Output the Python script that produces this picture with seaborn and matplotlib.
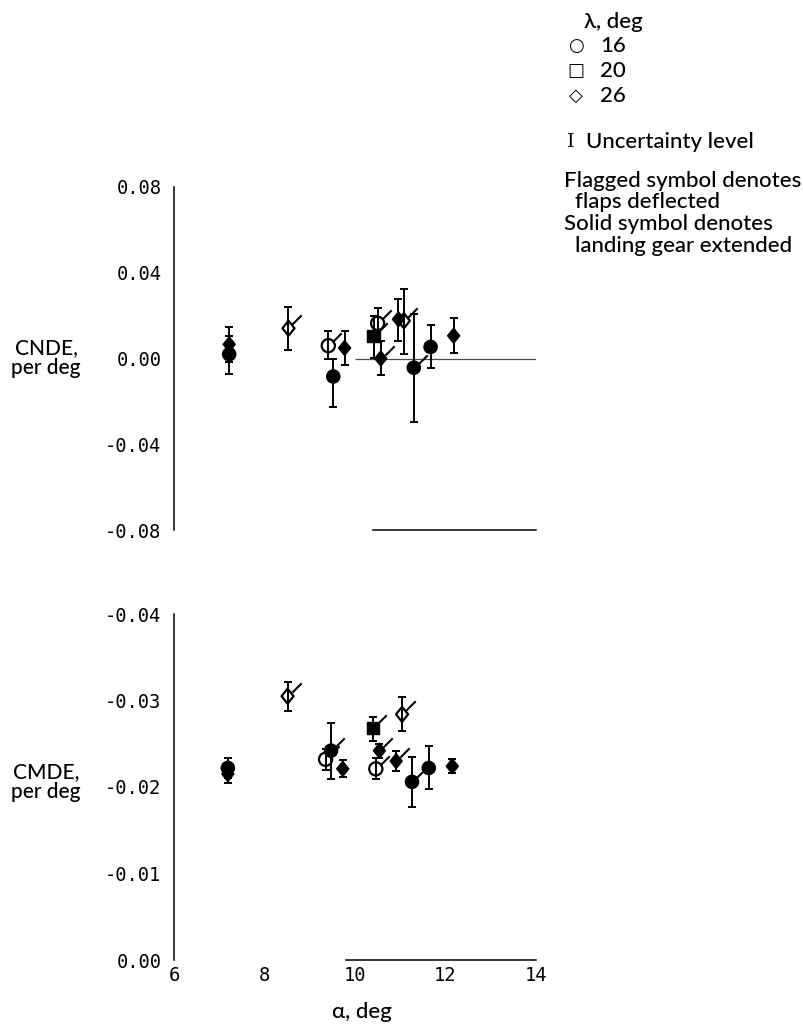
import numpy as np
import pandas as pd
import matplotlib
matplotlib.use("Agg")
import matplotlib.pyplot as plt
from matplotlib.path import Path
import seaborn as sns

# test points, same order in both panels
sweep = [26, 16, 26, 16, 16, 26, 20, 16, 26, 26, 26, 16, 16, 26]
gear_down = [1, 1, 0, 0, 1, 1, 1, 0, 1, 1, 0, 1, 1, 1]

# yawing moment derivative (top)
alpha_cn = [7.22, 7.22, 8.53, 9.41, 9.52, 9.77, 10.41, 10.50, 10.57, 10.96, 11.08, 11.30, 11.67, 12.18]
flaps_cn = [0, 0, 1, 1, 0, 0, 1, 1, 1, 0, 1, 1, 0, 0]
cnde = [0.0066, 0.0020, 0.0141, 0.0060, -0.0084, 0.0049, 0.0103, 0.0164, 0.0000, 0.0183, 0.0176, -0.0043, 0.0054, 0.0106]
cnde_lo = [-0.0014, -0.0072, 0.0040, 0.0000, -0.0225, -0.0030, 0.0003, 0.0080, -0.0078, 0.0080, 0.0023, -0.0296, -0.0043, 0.0026]
cnde_hi = [0.0146, 0.0105, 0.0240, 0.0130, 0.0000, 0.0130, 0.0200, 0.0234, 0.0080, 0.0279, 0.0325, 0.0207, 0.0156, 0.0187]

# pitching moment derivative (bottom)
alpha_cm = [7.19, 7.19, 8.51, 9.35, 9.47, 9.73, 10.39, 10.46, 10.54, 10.91, 11.04, 11.26, 11.63, 12.15]
flaps_cm = [0, 0, 1, 1, 1, 0, 1, 1, 1, 1, 1, 1, 0, 0]
cmde = [-0.0215, -0.0222, -0.0305, -0.0232, -0.0242, -0.0221, -0.0268, -0.0221, -0.0242, -0.0230, -0.0284, -0.0206, -0.0222, -0.0224]
cmde_lo = [-0.0225, -0.0234, -0.0321, -0.0244, -0.0274, -0.0231, -0.0281, -0.0233, -0.0250, -0.0242, -0.0304, -0.0235, -0.0247, -0.0232]
cmde_hi = [-0.0205, -0.0210, -0.0288, -0.0220, -0.0209, -0.0211, -0.0253, -0.0209, -0.0234, -0.0218, -0.0265, -0.0177, -0.0198, -0.0216]

alpha_ticks = [6, 8, 10, 12, 14]
cn_ticks = [0.08, 0.04, 0.00, -0.04, -0.08]
cn_ticklabels = ["0.08", "0.04", "0.00", "-0.04", "-0.08"]
cm_ticks = [-0.04, -0.03, -0.02, -0.01, 0.00]
cm_ticklabels = ["-0.04", "-0.03", "-0.02", "-0.01", "0.00"]
legend_sweeps = ["16", "20", "26"]
legend_symbols = ["\u25cb", "\u25a1", "\u25c7"]

sns.set_style("white")
plt.rcParams["font.family"] = ["Lato", "DejaVu Sans"]
plt.rcParams["text.color"] = "black"
MONO = "DejaVu Sans Mono"
TXT = dict(fontsize=16, fontweight="medium")

W, H = 804, 1032
def fx(px):
    return px / W
def fy(py):
    return 1 - py / H

# marker shapes
diamond = Path([(0, 1), (0.8, 0), (0, -1), (-0.8, 0), (0, 1)],
               [Path.MOVETO, Path.LINETO, Path.LINETO, Path.LINETO, Path.CLOSEPOLY])
flag = Path([(0.3, 0.3), (1.0, 1.0)], [Path.MOVETO, Path.LINETO])
MARKERS = {16: "o", 20: "s", 26: diamond}
SIZES = {16: 90, 20: 76, 26: 118}


def draw_panel(ax, alpha, val, lo, hi, flaps):
    df = pd.DataFrame({"alpha": alpha, "val": val, "lo": lo, "hi": hi,
                       "sweep": sweep, "gear": gear_down, "flap": flaps})
    ax.errorbar(df["alpha"], df["val"],
                yerr=[df["val"] - df["lo"], df["hi"] - df["val"]],
                fmt="none", ecolor="black", elinewidth=1.4, capsize=3.2, capthick=1.4, zorder=2)
    solid = df[df["gear"] == 1]
    hollow = df[df["gear"] == 0]
    sns.scatterplot(data=solid, x="alpha", y="val", style="sweep", markers=MARKERS,
                    size="sweep", sizes=SIZES, color="black", edgecolor="black",
                    linewidth=1.0, legend=False, ax=ax, zorder=3)
    sns.scatterplot(data=hollow, x="alpha", y="val", style="sweep", markers=MARKERS,
                    size="sweep", sizes=SIZES, color="black", facecolor="none",
                    edgecolor="black", linewidth=1.6, legend=False, ax=ax, zorder=3)
    flagged = df[df["flap"] == 1]
    ax.plot(flagged["alpha"], flagged["val"], ls="none", marker=flag, ms=19,
            mew=1.5, color="black", zorder=3)
    ax.set_xlim(6, 14)
    ax.set_xlabel("")
    ax.set_ylabel("")
    for s in ["top", "right"]:
        ax.spines[s].set_visible(False)
    for s in ["left", "bottom"]:
        ax.spines[s].set_color("black")
        ax.spines[s].set_linewidth(1.1)
    ax.tick_params(direction="in", length=5, width=1.1, color="black", labelcolor="black")
    ax.tick_params(axis="y", pad=9)
    ax.tick_params(axis="x", pad=4)


fig = plt.figure(figsize=(W / 100, H / 100), dpi=100)

ax_cn = fig.add_axes([fx(174), fy(530), (536 - 174) / W, (530 - 187) / H])
draw_panel(ax_cn, alpha_cn, cnde, cnde_lo, cnde_hi, flaps_cn)
ax_cn.hlines(0, 10.0, 14, color="0.3", lw=0.9, zorder=1)
ax_cn.set_ylim(-0.08, 0.08)
ax_cn.set_yticks(cn_ticks)
ax_cn.set_yticklabels(cn_ticklabels, fontfamily=MONO, fontsize=13.5)
ax_cn.set_xticks(alpha_ticks[1:])
ax_cn.set_xticklabels([])
ax_cn.spines["bottom"].set_bounds(10.4, 14)

ax_cm = fig.add_axes([fx(174), fy(960), (536 - 174) / W, (960 - 614) / H])
draw_panel(ax_cm, alpha_cm, cmde, cmde_lo, cmde_hi, flaps_cm)
ax_cm.set_ylim(0.0, -0.04)
ax_cm.set_yticks(cm_ticks)
ax_cm.set_yticklabels(cm_ticklabels, fontfamily=MONO, fontsize=13.5)
ax_cm.set_xticks(alpha_ticks)
ax_cm.set_xticklabels([str(t) for t in alpha_ticks], fontfamily=MONO, fontsize=13.5)
ax_cm.spines["bottom"].set_bounds(9.8, 14)

# axis titles
fig.text(fx(46), fy(358), "CNDE,\nper deg", ha="center", va="center", linespacing=1.05,
         fontsize=15, fontweight="medium")
fig.text(fx(46), fy(782), "CMDE,\nper deg", ha="center", va="center", linespacing=1.05,
         fontsize=15, fontweight="medium")
fig.text(fx(362), fy(1012), "\u03b1, deg", ha="center", va="center", **TXT)

# key
fig.text(fx(584), fy(22), "\u03bb, deg", ha="left", va="center", **TXT)
for i, (sym, lab) in enumerate(zip(legend_symbols, legend_sweeps)):
    yy = 46 + 25 * i
    fig.text(fx(576), fy(yy), sym, ha="center", va="center", fontsize=13, family="DejaVu Sans")
    fig.text(fx(600), fy(yy), lab, ha="left", va="center", **TXT)
fig.text(fx(571), fy(142), "I", ha="center", va="center", fontsize=14, family="DejaVu Serif")
fig.text(fx(586), fy(142), "Uncertainty level", ha="left", va="center", **TXT)
fig.text(fx(564), fy(181), "Flagged symbol denotes", ha="left", va="center", **TXT)
fig.text(fx(575), fy(202), "flaps deflected", ha="left", va="center", **TXT)
fig.text(fx(564), fy(224), "Solid symbol denotes", ha="left", va="center", **TXT)
fig.text(fx(575), fy(246), "landing gear extended", ha="left", va="center", **TXT)

fig.savefig("out.png", dpi=100)
